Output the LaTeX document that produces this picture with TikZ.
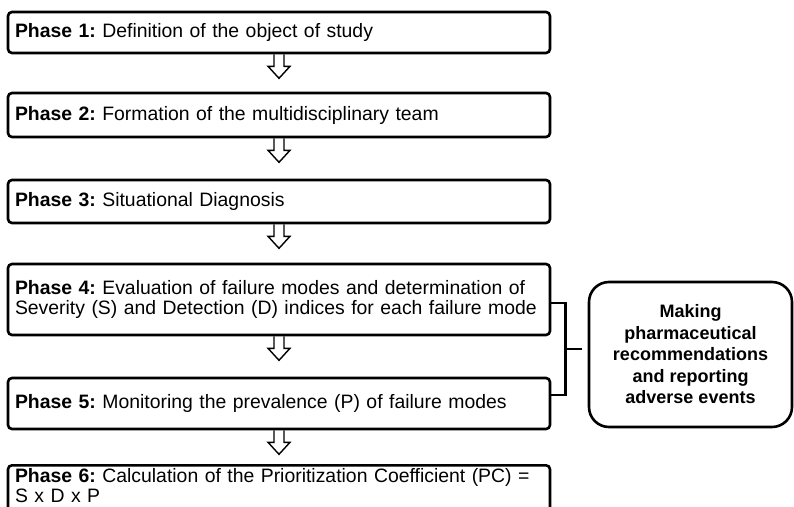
\documentclass[tikz,border=0pt]{standalone}
\usepackage{fontspec}
\setmainfont{Liberation Sans}
\frenchspacing
\usetikzlibrary{calc}
\begin{document}
\begin{tikzpicture}[x=1pt,y=-1pt,
  phase/.style={draw, line width=2.6pt, rounded corners=4pt, minimum width=542pt,
    text width=528pt, inner xsep=7pt, inner ysep=3pt, align=left,
    font=\fontsize{19.4}{20}\selectfont},
  blockarrow/.style={draw, line width=1.4pt, line join=miter},
  bracketline/.style={line width=2.4pt},
  side/.style={draw, line width=2.6pt, rounded corners=20pt, minimum width=203pt,
    minimum height=145pt, align=center, font=\fontsize{18}{21.5}\selectfont\bfseries}]
\path[use as bounding box] (0,0) rectangle (794,506);
\clip (0,0) rectangle (794,506);

\node[phase, minimum height=41pt] (b1) at (279,32.5) {\mbox{\textbf{Phase 1:} Definition of the object of study}};
\node[phase, minimum height=44pt] (b2) at (279,115) {\mbox{\textbf{Phase 2:} Formation of the multidisciplinary team}};
\node[phase, minimum height=43pt] (b3) at (279,201.5) {\mbox{\textbf{Phase 3:} Situational Diagnosis}};
\node[phase, minimum height=71pt] (b4) at (279,299.5) {\mbox{\textbf{Phase 4:} Evaluation of failure modes and determination of}\\\mbox{Severity (S) and Detection (D) indices for each failure mode}};
\node[phase, minimum height=51pt] (b5) at (279,403.5) {\mbox{\textbf{Phase 5:} Monitoring the prevalence (P) of failure modes}};
\node[phase, anchor=north] (b6) at (279,464) {\mbox{\textbf{Phase 6:} Calculation of the Prioritization Coefficient (PC) =}\\\mbox{S x D x P}\\\mbox{}};

\node[side] (rb) at (690.5,354.5) {Making\\pharmaceutical\\recommendations\\and reporting\\adverse events};

\foreach \n in {b1,b2,b3,b4,b5}{
  \draw[blockarrow] (\n.south) ++(-5,0) -- ++(0,12) -- ++(-6,0) -- ++(11,12)
    -- ++(11,-12) -- ++(-6,0) -- ++(0,-12);
}

\coordinate (bt) at ($(b4.east)+(0,3.5)$);
\coordinate (bb) at ($(b5.east)+(0,-8.5)$);
\coordinate (bm) at ($(bt)!0.5!(bb)+(14,0)$);
\draw[bracketline] (bt) -- ++(14,0) |- (bb);
\draw[bracketline] (bm) -- ($(rb.west |- bm)+(-5.7,0)$);
\end{tikzpicture}
\end{document}
